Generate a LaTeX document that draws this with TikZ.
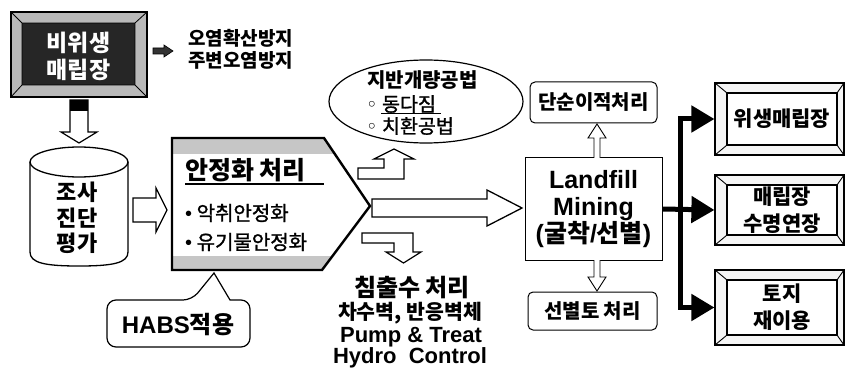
\documentclass[tikz,border=0pt]{standalone}
\usepackage{fontspec}
\setmainfont{Noto Sans CJK KR}
\newfontfamily\krm{Noto Sans CJK KR}[FakeBold=1.3]
\newfontfamily\lat{Liberation Sans}
\newfontfamily\djv{DejaVu Sans}
\usetikzlibrary{shapes.geometric,arrows.meta,calc}
\newcommand\fs[2]{\fontsize{#1}{#2}\selectfont}
\tikzset{
  txt/.style={inner sep=0pt},
  hollow/.style={fill=white, draw=black, line width=1.2pt, line join=miter},
  rbox/.style={draw, rounded corners=5pt, line width=1pt, inner sep=0pt, font=\bfseries\fs{20}{24}},
  blk/.style={line width=5pt, -{Triangle[length=23pt,width=26pt]}},
  frame/.style={draw, line width=1.2pt, inner sep=0pt, minimum width=129pt, fill=gray!8},
  rtext/.style={inner sep=0pt, font=\bfseries\fs{21}{26.5}, align=center}
}
\begin{document}
\begin{tikzpicture}[x=1pt,y=-1pt]
\useasboundingbox (0,0) rectangle (845,374);

% ---- non-sanitary landfill box
\fill[gray!55] (11,12) rectangle (147,97);
\fill[black!85] (22,23) rectangle (135,85);
\draw[line width=1.3pt] (11,12) rectangle (147,97);
\draw[line width=0.8pt] (22,23) rectangle (135,85)
  (11,12)--(22,23) (147,12)--(135,23) (11,97)--(22,85) (147,97)--(135,85);
\node[txt, white, font=\bfseries\fs{23}{27}, align=center] (bws) at (78.5,56.5) {비위생\\매립장};

% small arrow and effect text
\draw[fill=black!80, line width=0.6pt] (153,48) -- (164,48) -- (164,45) -- (173,51) -- (164,57) -- (164,54) -- (153,54) -- cycle;
\node[txt, anchor=west, font=\bfseries\fs{19}{21.5}, align=left] (eff) at (188,49.5) {오염확산방지\\주변오염방지};

% down arrow to cylinder
\draw[hollow] (70,100) -- (88,100) -- (88,132) -- (97,132) -- (79,143) -- (61,132) -- (70,132) -- cycle;
\fill (70,100) rectangle (88,111);

% cylinder
\draw[fill=white, line width=1.3pt] (30,162) -- (30,252) .. controls (30,263) and (45,266) .. (79,266)
   .. controls (113,266) and (128,263) .. (128,252) -- (128,162);
\draw[fill=white, line width=1.3pt] (79,162) ellipse [x radius=49, y radius=15];
\node[txt, font=\bfseries\fs{22}{25.5}, align=center] (cyl) at (77,218) {조사\\진단\\평가};

% hollow arrow to stabilisation
\draw[hollow] (133,198) -- (156,198) -- (156,188) -- (167,210) -- (156,232) -- (156,222) -- (133,222) -- cycle;

% stabilisation pentagon
\fill[white] (172,138) -- (324,138) -- (370,206) -- (322,270) -- (172,270) -- cycle;
\fill[gray!45] (172,138) -- (324,138) -- (335,154) -- (172,154) -- cycle;
\fill[gray!45] (172,256) -- (332.5,256) -- (322,270) -- (172,270) -- cycle;
\draw[line width=2.4pt, line join=miter] (172,138) -- (324,138) -- (370,206) -- (322,270) -- (172,270) -- cycle;
\coordinate (stab) at (370,206);
\node[txt, anchor=west, font=\bfseries\fs{25}{28}] (stabt) at (185,170) {안정화 처리};
\draw[line width=1.6pt] (185,184) -- (324,184);
\node[txt, anchor=west, font=\krm\fs{20}{24}] (b1) at (185,213) {{\lat •} 악취안정화};
\node[txt, anchor=west, font=\krm\fs{20}{24}] (b2) at (185,242) {{\lat •} 유기물안정화};

% HABS callout
\draw[fill=white, line width=1.2pt] (214,273) -- (230,300) [rounded corners=9pt] -- (250,300) -- (250,347) -- (107,347) -- (107,300) -- (192,300) [sharp corners] -- cycle;
\node[txt, font=\bfseries\fs{24}{28}] (habs) at (178,325) {{\lat HABS}적용};

% ground improvement ellipse
\node[ellipse, draw, line width=1.2pt, minimum width=194pt, minimum height=83pt, inner sep=0pt] (jiban) at (426,101.5) {};
\node[txt, anchor=west, font=\bfseries\fs{20}{24}] (jt) at (367,80) {지반개량공법};
\node[txt, anchor=west, font=\krm\fs{19.5}{24}] (j1) at (366,104) {{\djv ◦} 동다짐};
\node[txt, anchor=west, font=\krm\fs{19.5}{24}] (j2) at (366,126) {{\djv ◦} 치환공법};
\draw[line width=1pt] (381,113.5) -- (441,113.5);

% bent arrows
\draw[hollow] (358,168) -- (384,168) -- (384,159) -- (374,159) -- (394,149) -- (414,159) -- (404,159) -- (404,179) -- (358,179) -- cycle;
\draw[hollow] (362,233) -- (413,233) -- (413,252) -- (421,252) -- (403.5,263) -- (386,252) -- (394,252) -- (394,243) -- (362,243) -- cycle;

% main arrow to landfill mining
\draw[hollow, line width=1.3pt] (372,199) -- (487,199) -- (487,190) -- (522,208) -- (487,226) -- (487,217) -- (372,217) -- cycle;

% leachate text
\node[txt, font=\bfseries\fs{24}{28}] (leach) at (412,288) {침출수 처리};
\node[txt, font=\bfseries\fs{20.5}{24}] (lc1) at (410,313) {차수벽, 반응벽체};
\node[txt, font=\lat\bfseries\fs{22}{26}] (lc2) at (411,337) {Pump \& Treat};
\node[txt, font=\lat\bfseries\fs{22}{26}] (lc3) at (410,358) {Hydro\ \ Control};

% right-middle column
\node[rbox, minimum width=127pt, minimum height=41pt] (dansun) at (593.5,102.5) {단순이적처리};
\node[draw, line width=1pt, inner sep=0pt, minimum width=137pt, minimum height=102pt, font=\bfseries\fs{25}{27}, align=center] (lm) at (593.5,209) {{\lat Landfill}\\{\lat Mining}\\{\lat (}굴착{\lat /}선별{\lat )}};
\node[rbox, minimum width=129pt, minimum height=38pt] (sunbyul) at (592.5,311) {선별토 처리};
\draw[fill=white, line width=0.9pt] (594,158) -- (594,138) -- (588,138) -- (597,124) -- (606,138) -- (600,138) -- (600,158);
\draw[fill=white, line width=0.9pt] (594,260) -- (594,277) -- (588,277) -- (597,291) -- (606,277) -- (600,277) -- (600,260);

% right beveled boxes
\node[frame, minimum height=72pt] (f1) at (779.5,119) {};
\node[frame, minimum height=70pt] (f2) at (779.5,210) {};
\node[frame, minimum height=75pt] (f3) at (779.5,307.5) {};
\foreach \yt/\yb in {83/155, 175/245, 270/345} {
  \draw[fill=white, line width=1.7pt] (727,\yt+10) rectangle (837,\yb-10);
  \draw[line width=0.9pt] (715,\yt) -- (727,\yt+10) (844,\yt) -- (837,\yt+10)
     (715,\yb) -- (727,\yb-10) (844,\yb) -- (837,\yb-10);
}
\node[rtext] (r1) at (782,119) {위생매립장};
\node[rtext] (r2) at (782,210) {매립장\\수명연장};
\node[rtext] (r3) at (782,307) {토지\\재이용};

% black connectors
\coordinate (bus) at (680,209);
\draw[blk] (lm.east) -- (f2.west);
\draw[line width=5pt, line cap=rect] (bus |- f1.west) -- (bus |- f3.west);
\draw[blk] (bus |- f1.west) -- (f1.west);
\draw[blk] (bus |- f3.west) -- (f3.west);
\end{tikzpicture}
\end{document}
